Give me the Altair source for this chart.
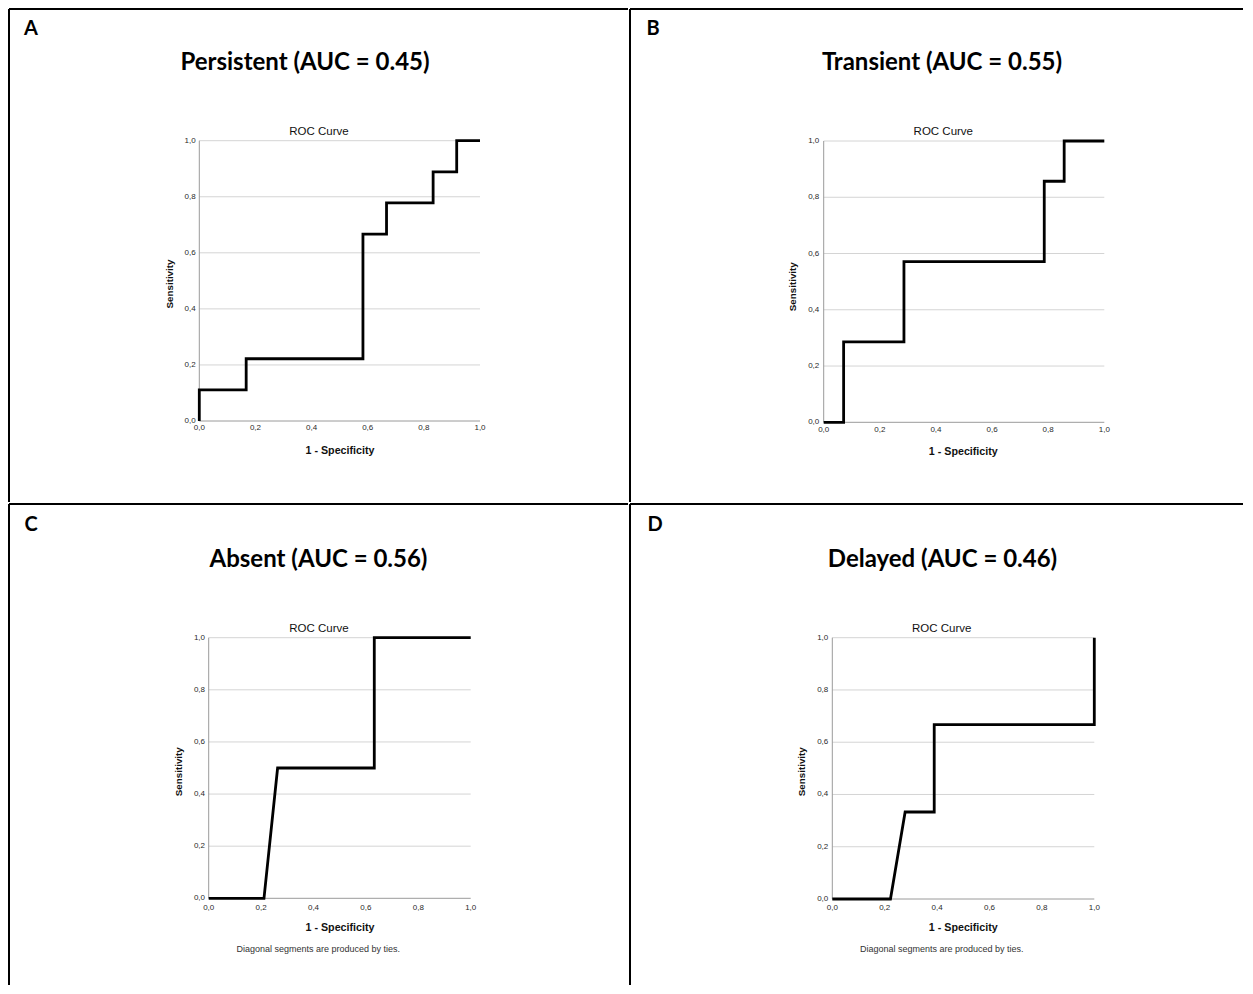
import altair as alt
import pandas as pd

# ---------------- data ----------------
A_fpr = [0.0, 0.0, 0.167, 0.167, 0.583, 0.583, 0.667, 0.667, 0.833, 0.833, 0.917, 0.917, 1.0]
A_tpr = [0.0, 0.111, 0.111, 0.222, 0.222, 0.667, 0.667, 0.778, 0.778, 0.889, 0.889, 1.0, 1.0]

B_fpr = [0.0, 0.071, 0.071, 0.286, 0.286, 0.786, 0.786, 0.857, 0.857, 1.0]
B_tpr = [0.0, 0.0, 0.286, 0.286, 0.571, 0.571, 0.857, 0.857, 1.0, 1.0]

C_fpr = [0.0, 0.211, 0.263, 0.632, 0.632, 1.0]
C_tpr = [0.0, 0.0, 0.5, 0.5, 1.0, 1.0]

D_fpr = [0.0, 0.222, 0.278, 0.389, 0.389, 1.0, 1.0]
D_tpr = [0.0, 0.0, 0.333, 0.333, 0.667, 0.667, 1.0]

TICKS = [0.0, 0.2, 0.4, 0.6, 0.8, 1.0]
TICK_LABELS = ["0,0", "0,2", "0,4", "0,6", "0,8", "1,0"]

PANEL_LETTERS = ["A", "B", "C", "D"]
PANEL_TITLES = ["Persistent (AUC = 0.45)", "Transient (AUC = 0.55)",
                "Absent (AUC = 0.56)", "Delayed (AUC = 0.46)"]
ROC_TITLE = "ROC Curve"
X_TITLE = "1 - Specificity"
Y_TITLE = "Sensitivity"
NOTE = "Diagonal segments are produced by ties."

SANS = "Liberation Sans"
TITLE_FONT = "Lato"


def txt(s, x, y, size, weight="normal", font=SANS, angle=0, align="center", color="#111"):
    kw = dict(fontSize=size, fontWeight=weight, font=font, align=align,
              baseline="middle", color=color)
    if angle:
        kw["angle"] = angle
    return alt.Chart(pd.DataFrame({"t": [s]})).mark_text(**kw).encode(
        x=alt.value(x), y=alt.value(y), text="t:N")


def panel(fpr, tpr, letter, title, note, W, H, g, dx=0.0, dy=0.0):
    x0, x1, y0, y1 = g["x0"] + dx, g["x1"] + dx, g["y0"] + dy, g["y1"] + dy
    sx = alt.Scale(domain=[-x0 / (x1 - x0), (W - x0) / (x1 - x0)], range=[0, W],
                   nice=False, zero=False)
    sy = alt.Scale(domain=[(y0 - H) / (y0 - y1), y0 / (y0 - y1)], range=[H, 0],
                   nice=False, zero=False)

    grid_df = pd.DataFrame({"v": TICKS[1:]})
    grid = alt.Chart(grid_df).mark_rule(color="#d4d4d4", strokeWidth=1).encode(
        y=alt.Y("v:Q", scale=sy, axis=None),
        x=alt.XDatum(TICKS[0], scale=sx, axis=None),
        x2=alt.X2Datum(TICKS[-1]))

    one = pd.DataFrame({"k": [0]})
    yaxis = alt.Chart(one).mark_rule(color="#9a9a9a", strokeWidth=1).encode(
        x=alt.XDatum(TICKS[0], scale=sx, axis=None),
        y=alt.YDatum(TICKS[0], scale=sy, axis=None),
        y2=alt.Y2Datum(TICKS[-1]))
    xaxis = alt.Chart(one).mark_rule(color="#9a9a9a", strokeWidth=1).encode(
        y=alt.YDatum(TICKS[0], scale=sy, axis=None),
        x=alt.XDatum(TICKS[0], scale=sx, axis=None),
        x2=alt.X2Datum(TICKS[-1]))

    cdf = pd.DataFrame({"fpr": fpr, "tpr": tpr, "i": list(range(len(fpr)))})
    curve = alt.Chart(cdf).mark_line(color="black", strokeWidth=2.8,
                                     strokeJoin="miter", strokeCap="butt").encode(
        x=alt.X("fpr:Q", scale=sx, axis=None),
        y=alt.Y("tpr:Q", scale=sy, axis=None),
        order="i:Q")

    tdf = pd.DataFrame({"v": TICKS, "lab": TICK_LABELS})
    xt = alt.Chart(tdf).mark_text(fontSize=8, font=SANS, color="#2a2a2a",
                                  align="center", baseline="middle").encode(
        x=alt.X("v:Q", scale=sx, axis=None), y=alt.value(g["xt"] + dy), text="lab:N")
    yt = alt.Chart(tdf).mark_text(fontSize=8, font=SANS, color="#2a2a2a",
                                  align="right", baseline="middle").encode(
        y=alt.Y("v:Q", scale=sy, axis=None), x=alt.value(g["yt"] + dx), text="lab:N")

    layers = [grid, yaxis, xaxis, curve, xt, yt,
              txt(ROC_TITLE, g["rx"] + dx, g["ry"] + dy, 11.5, color="#111"),
              txt(X_TITLE, g["xx"] + dx, g["xy"] + dy, 10.7, weight="bold"),
              txt(Y_TITLE, g["yx"] + dx, g["yy"] + dy, 9.8, weight="bold", angle=270),
              txt(title, g["tx"] + dx, g["ty"] + dy, 24, weight="bold", font=TITLE_FONT, color="#000"),
              txt(letter, g["lx"] + dx, g["ly"] + dy, 20, weight="bold", font=TITLE_FONT, color="#000")]
    if note:
        layers.append(txt(NOTE, g["nx"] + dx, g["ny"] + dy, 9, color="#333"))

    bt = alt.Chart(one).mark_rule(color="black", strokeWidth=2).encode(
        x=alt.value(1), x2=alt.value(W - 1), y=alt.value(1))
    bl = alt.Chart(one).mark_rule(color="black", strokeWidth=2).encode(
        x=alt.value(1), y=alt.value(1), y2=alt.value(H - 1))
    layers += [bt, bl]
    return alt.layer(*layers).properties(width=W, height=H)


# positions measured relative to each cell's top-left corner (cells at 8/630, 8/504)
gA = dict(x0=191.3, x1=472.0, y0=413.0, y1=132.7, xt=420, yt=187.7,
          rx=311, ry=123.7, xx=332, xy=442.7, yx=162, yy=276,
          tx=297, ty=55, lx=23, ly=21)
gB = dict(x0=193.7, x1=474.3, y0=414.3, y1=133.0, xt=422, yt=189.3,
          rx=313.3, ry=123.7, xx=333.3, xy=444.3, yx=163.3, yy=278.7,
          tx=312, ty=55, lx=23, ly=21)
gC = dict(x0=200.7, x1=462.7, y0=394.3, y1=133.7, xt=404.3, yt=197,
          rx=311, ry=125, xx=332, xy=424.3, yx=171.3, yy=267.7,
          tx=310.5, ty=56, lx=23, ly=21, nx=310.3, ny=445.3)
gD = dict(x0=202.3, x1=464.3, y0=395.0, y1=133.7, xt=404.3, yt=198.3,
          rx=311.7, ry=125, xx=333.3, xy=424.3, yx=172.3, yy=267.7,
          tx=312.5, ty=56, lx=25, ly=21, nx=311.7, ny=445.3)

W_LEFT, W_RIGHT, H_TOP, H_BOT = 621, 615, 495, 483

pA = panel(A_fpr, A_tpr, PANEL_LETTERS[0], PANEL_TITLES[0], False, W_LEFT, H_TOP, gA)
pB = panel(B_fpr, B_tpr, PANEL_LETTERS[1], PANEL_TITLES[1], False, W_RIGHT, H_TOP, gB, dx=1)
pC = panel(C_fpr, C_tpr, PANEL_LETTERS[2], PANEL_TITLES[2], True, W_LEFT, H_BOT, gC, dy=1)
pD = panel(D_fpr, D_tpr, PANEL_LETTERS[3], PANEL_TITLES[3], True, W_RIGHT, H_BOT, gD, dx=1, dy=1)

chart = alt.vconcat(
    alt.hconcat(pA, pB, spacing=0),
    alt.hconcat(pC, pD, spacing=0),
    spacing=0,
).properties(padding=0, background="white").configure_view(stroke=None)

chart.save("out.html", embed_options={"renderer": "svg", "actions": False})
